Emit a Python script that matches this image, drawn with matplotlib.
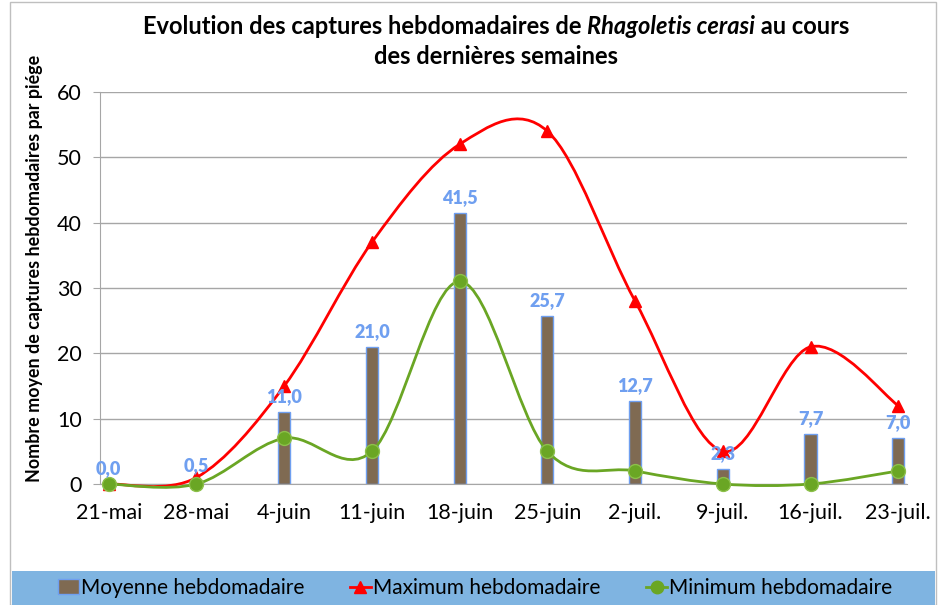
import numpy as np
import matplotlib.pyplot as plt
from matplotlib.path import Path
from matplotlib.patches import PathPatch, Rectangle
from matplotlib.lines import Line2D

plt.rcParams['font.family'] = ['Lato', 'DejaVu Sans']

weeks = ["21-mai", "28-mai", "4-juin", "11-juin", "18-juin", "25-juin",
         "2-juil.", "9-juil.", "16-juil.", "23-juil."]
moyenne = [0.0, 0.5, 11.0, 21.0, 41.5, 25.7, 12.7, 2.3, 7.7, 7.0]
maximum = [0, 1, 15, 37, 52, 54, 28, 5, 21, 12]
minimum = [0, 0, 7, 5, 31, 5, 2, 0, 0, 2]

BAR_COLOR = "#7f6a52"
BAR_EDGE = "#6f9ff0"
LABEL_BLUE = "#6f9ff0"
RED = "#ff0000"
GREEN = "#6aa624"


def smooth_path(x, y):
    # Excel-like smoothed line: Catmull-Rom converted to cubic Bezier
    pts = np.column_stack([x, y]).astype(float)
    n = len(pts)
    verts = [pts[0]]
    codes = [Path.MOVETO]
    for i in range(n - 1):
        p0 = pts[max(i - 1, 0)]
        p1 = pts[i]
        p2 = pts[i + 1]
        p3 = pts[min(i + 2, n - 1)]
        c1 = p1 + (p2 - p0) / 6
        c2 = p2 - (p3 - p1) / 6
        verts += [c1, c2, p2]
        codes += [Path.CURVE4] * 3
    return Path(verts, codes)


fig = plt.figure(figsize=(9.38, 6.05), dpi=100)
ax = fig.add_axes([100 / 938, 1 - 484 / 605, 807 / 938, 392 / 605])

x = np.arange(len(weeks))

ax.bar(x, moyenne, width=0.14, color=BAR_COLOR, edgecolor=BAR_EDGE,
       linewidth=1, zorder=2)

ax.add_patch(PathPatch(smooth_path(x, maximum), facecolor="none",
                       edgecolor=RED, lw=2, zorder=3, clip_on=False))
ax.plot(x, maximum, linestyle="none", marker="^", color=RED, ms=9,
        zorder=4, clip_on=False)

ax.add_patch(PathPatch(smooth_path(x, minimum), facecolor="none",
                       edgecolor=GREEN, lw=2, zorder=3, clip_on=False))
ax.plot(x, minimum, linestyle="none", marker="o", color=GREEN, ms=10,
        markeredgecolor="#8cc04a", markeredgewidth=1, zorder=5, clip_on=False)

for xi, v in zip(x, moyenne):
    ax.annotate(f"{v:.1f}".replace(".", ","), (xi, v), xytext=(0, 5),
                textcoords="offset points", ha="center", va="bottom",
                color=LABEL_BLUE, fontsize=13, fontweight="heavy", zorder=6)

ax.set_xlim(-0.1, 9.1)
ax.set_ylim(0, 60)
ax.set_yticks(range(0, 61, 10))
ax.set_xticks(x)
ax.set_xticklabels(weeks)
ax.tick_params(axis="both", labelsize=15.5, color="#a6a6a6")
ax.tick_params(axis="y", length=5, pad=8)
ax.tick_params(axis="x", length=0, pad=14)
ax.grid(axis="y", color="#a6a6a6", lw=1)
ax.set_axisbelow(True)
for s in ["top", "right"]:
    ax.spines[s].set_visible(False)
ax.spines["left"].set_color("#a6a6a6")
ax.spines["bottom"].set_color("#a6a6a6")

fig.text(35 / 938, 1 - 268 / 605,
         "Nombre moyen de captures hebdomadaires par piége",
         rotation=90, ha="center", va="center", fontsize=12.9,
         fontweight="bold")

# title with italic species name
parts = [("Evolution des captures hebdomadaires de ", "normal"),
         ("Rhagoletis cerasi", "italic"),
         (" au cours", "normal")]
texts = [fig.text(0, 1 - 27 / 605, t, fontsize=17, fontweight="bold",
                  style=st, va="center", ha="left") for t, st in parts]
fig.canvas.draw()
r = fig.canvas.get_renderer()
widths = [t.get_window_extent(r).width for t in texts]
start = 496 - sum(widths) / 2
for t, w in zip(texts, widths):
    t.set_x(start / 938)
    start += w
fig.text(496 / 938, 1 - 57 / 605, "des dernières semaines", fontsize=17,
         fontweight="bold", ha="center", va="center")

# chart frame and legend band
fig.patches.append(Rectangle((10 / 938, 0), 926 / 938, 1 - 2 / 605,
                             transform=fig.transFigure, fill=False,
                             edgecolor="#bfbfbf", lw=1))
fig.patches.append(Rectangle((12 / 938, 0), 923 / 938, 34 / 605,
                             transform=fig.transFigure, facecolor="#7fb4e1",
                             edgecolor="none"))

handles = [
    Rectangle((0, 0), 1, 1, facecolor=BAR_COLOR, edgecolor=BAR_EDGE),
    Line2D([], [], color=RED, lw=2, marker="^", ms=9),
    Line2D([], [], color=GREEN, lw=2, marker="o", ms=9),
]
labels = ["Moyenne hebdomadaire", "Maximum hebdomadaire",
          "Minimum hebdomadaire"]
fig.legend(handles, labels, loc="center", bbox_to_anchor=(475 / 938, 17 / 605),
           ncol=3, frameon=False, fontsize=15, handlelength=1.0,
           handletextpad=0.1, columnspacing=2.2, borderpad=0)

fig.savefig("out.png", dpi=100)
